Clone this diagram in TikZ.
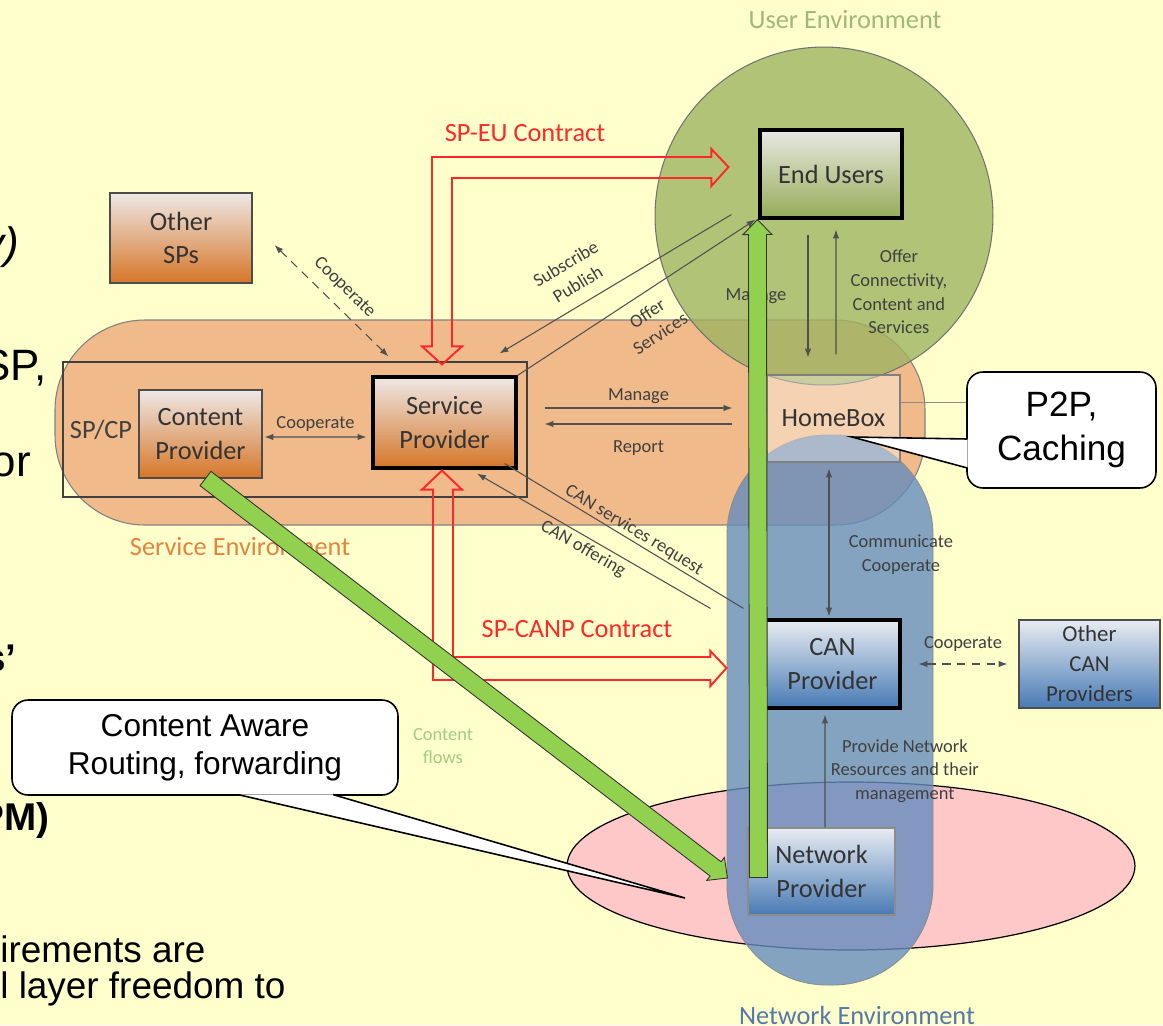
\documentclass[tikz,border=0pt]{standalone}
\usepackage{fontspec}
\setmainfont{Carlito}
\newfontfamily\slidefont{Liberation Sans}
\usetikzlibrary{calc,arrows.meta}

\definecolor{slidebg}{RGB}{255,255,204}
\definecolor{senvfill}{RGB}{240,186,138}
\definecolor{uenvfill}{RGB}{158,180,98}
\definecolor{nenvfill}{RGB}{100,140,190}
\definecolor{pinkfill}{RGB}{255,200,200}
\definecolor{sptop}{RGB}{238,232,230}
\definecolor{spbot}{RGB}{214,118,40}
\definecolor{eutop}{RGB}{232,232,226}
\definecolor{eubot}{RGB}{150,172,88}
\definecolor{cantop}{RGB}{232,236,242}
\definecolor{canbot}{RGB}{72,122,180}
\definecolor{flowgreen}{RGB}{146,208,80}
\definecolor{contractred}{RGB}{255,40,40}
\definecolor{linkgray}{RGB}{80,80,80}
\definecolor{uenvtxt}{RGB}{160,184,120}
\definecolor{senvtxt}{RGB}{226,132,62}
\definecolor{nenvtxt}{RGB}{84,120,168}
\definecolor{flowtxt}{RGB}{160,204,130}

% green content flow, from #1 to the tip #2
\newcommand{\flowarrow}[2]{%
  \filldraw[flow] ($(#1)!0.18cm!90:(#2)$) -- ($(#2)!0.3cm!(#1)!0.18cm!90:(#2)$)
    -- ($(#2)!0.3cm!(#1)!0.29cm!90:(#2)$) -- (#2)
    -- ($(#2)!0.3cm!(#1)!0.29cm!-90:(#2)$) -- ($(#2)!0.3cm!(#1)!0.18cm!-90:(#2)$)
    -- ($(#1)!0.18cm!-90:(#2)$) -- cycle;}

\begin{document}
\begin{tikzpicture}[x=0.02cm, y=-0.02cm, >={Latex[length=5pt,width=3.6pt]},
    box/.style={draw=black!70, line width=0.6pt, minimum width=2.84cm, minimum height=1.76cm,
        inner sep=0pt, align=center, text=black!80, font=\fontsize{15}{19}\selectfont},
    orangebox/.style={box, top color=sptop, bottom color=spbot},
    greenbox/.style={box, top color=eutop, bottom color=eubot},
    bluebox/.style={box, top color=cantop, bottom color=canbot},
    thick box/.style={draw=black, line width=1.8pt},
    link/.style={->, linkgray, line width=0.6pt},
    both/.style={<->, linkgray, line width=0.6pt},
    lbl/.style={text=black!75, font=\fontsize{10.5}{13.5}\selectfont, align=center, inner sep=1pt},
    envlbl/.style={font=\fontsize{15}{18}\selectfont},
    contract/.style={draw=contractred, line width=1.1pt},
    redlbl/.style={text=contractred, font=\fontsize{15}{18}\selectfont},
    flow/.style={fill=flowgreen, draw=black!80, line width=0.5pt},
    callout/.style={draw=black, line width=0.9pt, fill=white, rounded corners=0.32cm,
        align=center, inner sep=0pt},
    slide/.style={inner sep=0pt, font=\slidefont\fontsize{21}{25}\selectfont}]

    \path[use as bounding box, fill=slidebg] (0,0) rectangle (1163,1025);

    \node[slide, anchor=east, font=\slidefont\itshape\fontsize{25}{30}\selectfont] (frag1) at (19,247) {y)};
    \node[slide, anchor=east, font=\slidefont\fontsize{25}{30}\selectfont] (frag2) at (47,368) {SP,};
    \node[slide, anchor=east, font=\slidefont\fontsize{25}{30}\selectfont] (frag3) at (31,465) {or};
    \node[slide, anchor=east, font=\slidefont\bfseries\fontsize{22}{26}\selectfont] (frag4) at (17,658) {s’};
    \node[slide, anchor=east, font=\slidefont\bfseries\fontsize{22}{26}\selectfont] (frag5) at (50,820) {PM)};
    \node[slide, anchor=west] (frag6) at (0,949) {irements are};
    \node[slide, anchor=west] (frag7) at (0,989) {l layer freedom to};

    % environments
    \filldraw[fill=senvfill, draw=black!50, line width=0.6pt, rounded corners=1.8cm] (55,320) rectangle (925,525);
    \filldraw[fill=pinkfill, draw=black, line width=0.7pt] (851,866) ellipse [x radius=5.68cm, y radius=1.68cm];
    \filldraw[fill=uenvfill, fill opacity=0.8, draw=black!55, line width=0.6pt] (824,216) circle [radius=3.38cm];
    \filldraw[fill=nenvfill, fill opacity=0.8, draw=black!45, line width=0.5pt, rounded corners=2cm] (727,435) rectangle (933,985);

    \node[box, fill=white, fill opacity=0.35, text opacity=1, draw=black!50, minimum width=2.66cm,
        minimum height=1.74cm] (hb) at (833.5,418.5) {HomeBox};
    \node[draw=black!75, line width=0.7pt, minimum width=9.28cm, minimum height=2.7cm, inner sep=0pt] (spcp) at (295,429.5) {};
    \node[lbl, font=\fontsize{15}{18}\selectfont] (spcplbl) at (101,430) {SP/CP};

    \node[orangebox, minimum height=1.8cm] (osp) at (181,238) {Other\\SPs};
    \node[orangebox, minimum width=2.46cm] (cp) at (200.5,434) {Content\\Provider};
    \node[orangebox, thick box, minimum width=2.86cm, minimum height=1.82cm] (sp) at (444.5,422.5) {Service\\Provider};
    \node[greenbox, thick box] (eu) at (831,174) {End Users};
    \node[bluebox, thick box, minimum width=2.7cm] (canp) at (832.5,664) {CAN\\Provider};
    \node[bluebox, minimum width=2.82cm, font=\fontsize{13}{17}\selectfont] (ocan) at (1089.5,664) {Other\\CAN\\Providers};
    \node[bluebox, draw=black!45, minimum width=2.94cm, minimum height=1.74cm] (np) at (821.5,871.5) {Network\\Provider};

    % contracts
    \coordinate (eutip) at ([shift={(-30,-7)}]eu.west);
    \coordinate (sptop) at ([shift={(-2.5,-11)}]sp.north);
    \draw[contract] (sptop) -- ++(20,-18) -- ++(-10,0) |- ($(eutip)+(-17,11)$) -- ++(0,8) -- (eutip)
        -- ++(-17,-18) -- ++(0,8) -| ($(sptop)+(-10,-18)$) -- ++(-10,0) -- cycle;
    \coordinate (spbot) at ([shift={(-2.5,1)}]sp.south);
    \coordinate (cantip) at ([shift={(-37,4)}]canp.west);
    \draw[contract] (spbot) -- ++(20,19) -- ++(-9,0) |- ($(cantip)+(-16,-11)$) -- ++(0,-6) -- (cantip)
        -- ++(-16,18) -- ++(0,-6) -| ($(spbot)+(-9,19)$) -- ++(-11,0) -- cycle;
    \node[redlbl] (speutxt) at (525,133) {SP-EU Contract};
    \node[redlbl] (spcantxt) at (577,629) {SP-CANP Contract};

    \draw[both, dash pattern=on 5pt off 3.5pt] ([shift={(22,7)}]osp.east) -- ([shift={(17,-19)}]sp.north west)
        node[lbl, midway, above=5pt, sloped] {Cooperate};
    \draw[both] ([shift={(2,3)}]cp.east) -- ([shift={(-5,14.5)}]sp.west)
        node[lbl, midway, above=2pt] {Cooperate};
    \draw[link] ([shift={(27,-14.5)}]sp.east) -- ([shift={(-34,-10.5)}]hb.west)
        node[lbl, midway, above=1pt] {Manage};
    \draw[link] ([shift={(-34,5.5)}]hb.west) -- ([shift={(27,1.5)}]sp.east)
        node[lbl, midway, below=8pt] {Report};
    \draw[link] ([shift={(-27,-5)}]eu.south west) -- ([shift={(-18,-22)}]sp.north east)
        node[lbl, pos=0.62, above=6pt, sloped] {Subscribe\\Publish};
    \draw[link] (sp.north east) -- ([shift={(-3,0)}]eu.south west)
        node[lbl, pos=0.5, below=6pt, sloped] {Offer\\Services};
    \draw[linkgray, line width=0.6pt] ([shift={(-13,-6)}]sp.south east) -- ([shift={(-20,-10)}]canp.north west)
        node[lbl, pos=0.52, above=0pt, sloped] {CAN services request};
    \draw[link] ([shift={(-53,-10)}]canp.north west) -- ([shift={(32.5,4)}]sp.south)
        node[lbl, pos=0.52, below=1pt, sloped] {CAN offering};
    \draw[link] ([shift={(-23,15)}]eu.south) -- ([shift={(-25.5,-17)}]hb.north)
        node[lbl, midway, left=11pt] {Manage};
    \draw[link] ([shift={(2.5,-20)}]hb.north) -- ([shift={(5,10)}]eu.south)
        node[lbl, midway, right=7pt] {Offer\\Connectivity,\\Content and\\Services};
    \draw[both] ([shift={(-4.5,6)}]hb.south) -- ([shift={(-3.5,-2)}]canp.north)
        node[lbl, pos=0.58, right=10pt] {Communicate\\Cooperate};
    \draw[both, dash pattern=on 5pt off 3.5pt] ([shift={(17,0)}]canp.east) -- ([shift={(-11,0)}]ocan.west)
        node[lbl, midway, above=6pt] {Cooperate};
    \draw[link] ([shift={(3.5,0)}]np.north) -- ([shift={(-7.5,5)}]canp.south)
        node[lbl, midway, right=2pt] {Provide Network\\Resources and their\\management};
    \node[lbl, text=flowtxt] (flowlbl) at (443,746) {Content\\flows};

    \node[envlbl, text=uenvtxt] (uenvlbl) at (845,20) {User Environment};
    \node[envlbl, text=senvtxt] (senvlbl) at (240,547) {Service Environment};
    \node[envlbl, text=nenvtxt] (nenvlbl) at (857,1015) {Network Environment};

    % content flows
    \coordinate (cpout) at ([shift={(5,0)}]cp.south);
    \coordinate (npin) at ([shift={(-20,6.5)}]np.west);
    \flowarrow{cpout}{npin}
    \coordinate (npup) at ([shift={(11,50)}]np.north west);
    \coordinate (euin) at ([shift={(-1,0)}]eu.south west);
    \flowarrow{npup}{euin}

    % callouts
    \node[callout, minimum width=3.78cm, minimum height=2.32cm, font=\slidefont\fontsize{20}{25}\selectfont]
        (p2p) at (1061.5,430) {P2P,\\Caching};
    \coordinate (p2ptip) at (852,437);
    \fill[white] ([shift={(1.5,9)}]p2p.west) -- (p2ptip) -- ([shift={(1.5,38)}]p2p.west) -- cycle;
    \draw[line width=0.9pt] ([shift={(1.2,9)}]p2p.west) -- (p2ptip) -- ([shift={(1.2,38)}]p2p.west);
    \draw[black!45, line width=0.5pt] ([shift={(0,-16.5)}]hb.east) -- ([shift={(0,-28)}]p2p.west);

    \node[callout, minimum width=7.72cm, minimum height=1.9cm, font=\slidefont\fontsize{18}{21.5}\selectfont]
        (car) at (205,747.5) {Content Aware\\Routing, forwarding};
    \coordinate (cartip) at (685,898);
    \fill[white] ([shift={(33,-1.5)}]car.south) -- (cartip) -- ([shift={(128,-1.5)}]car.south) -- cycle;
    \draw[line width=0.9pt] ([shift={(33,-1.2)}]car.south) -- (cartip) -- ([shift={(128,-1.2)}]car.south);

\end{tikzpicture}
\end{document}
